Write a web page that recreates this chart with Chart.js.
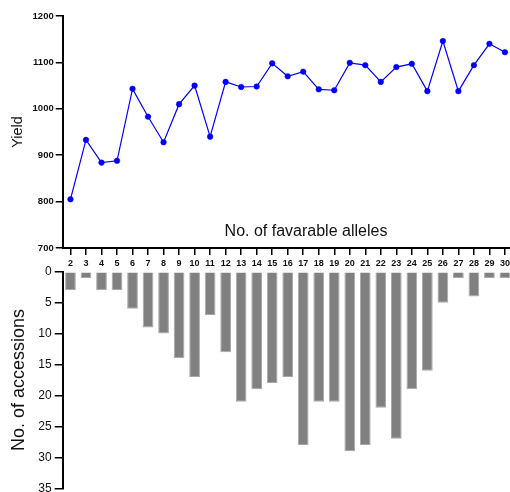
<!DOCTYPE html>
<html>
<head>
<meta charset="utf-8">
<script src="https://cdn.jsdelivr.net/npm/chart.js@4.4.1/dist/chart.umd.min.js"></script>
<style>
  html, body { margin: 0; padding: 0; background: #fff; overflow: hidden; width: 510px; height: 492px; }
  canvas { position: absolute; left: 0; }
  #yield_chart { top: 0; }
  #count_chart { top: 252px; }
</style>
</head>
<body>
<canvas id="yield_chart" width="530" height="278"></canvas>
<canvas id="count_chart" width="530" height="257"></canvas>
<script>
var alleles = ['2','3','4','5','6','7','8','9','10','11','12','13','14','15','16',
               '17','18','19','20','21','22','23','24','25','26','27','28','29','30'];
var yieldValues = [805, 933, 884, 888, 1043, 983, 928, 1010, 1050, 940, 1058, 1047, 1048, 1098, 1070,
                   1080, 1042, 1040, 1099, 1094, 1058, 1090, 1097, 1038, 1146, 1038, 1094, 1140, 1122];
var accessions = [3, 1, 3, 3, 6, 9, 10, 14, 17, 7, 13, 21, 19, 18, 17,
                  28, 21, 21, 29, 28, 22, 27, 19, 16, 5, 1, 4, 1, 1];
var yieldTicks = [700, 800, 900, 1000, 1100, 1200];

var FONT = "'Liberation Sans', Arial, sans-serif";
Chart.defaults.font.family = FONT;
Chart.defaults.color = '#111';

// axis box width so both plots start at x = 62.7
function fixWidth(axis) { axis.width = 62.7; }

var xTitle = {
  id: 'xTitle',
  afterDraw: function (chart) {
    var ctx = chart.ctx;
    ctx.save();
    ctx.font = '16px ' + FONT;
    ctx.fillStyle = '#111';
    ctx.textAlign = 'center';
    ctx.textBaseline = 'middle';
    ctx.fillText('No. of favarable alleles', 306, 232);
    ctx.restore();
  }
};

new Chart(document.getElementById('yield_chart').getContext('2d'), {
  type: 'line',
  data: {
    labels: alleles,
    datasets: [{
      data: yieldValues,
      borderColor: '#0000ff',
      backgroundColor: '#0000ff',
      borderWidth: 1.2,
      pointRadius: 2.8,
      pointBorderWidth: 0.5,
      tension: 0
    }]
  },
  options: {
    responsive: false,
    animation: false,
    layout: { padding: { top: 16, bottom: 0, left: 0, right: 17.3 } },
    plugins: { legend: { display: false }, tooltip: { enabled: false } },
    scales: {
      x: {
        offset: true,
        afterFit: function (axis) { axis.height = 30; },
        border: { color: '#000', width: 2 },
        grid: { display: true, drawOnChartArea: false, color: '#000', lineWidth: 1.5, tickLength: 7 },
        ticks: { font: { size: 9, weight: 'bold' }, padding: 3, maxRotation: 0, autoSkip: false, color: '#111' }
      },
      y: {
        min: 700,
        max: 1200,
        afterFit: fixWidth,
        afterBuildTicks: function (axis) { axis.ticks = yieldTicks.map(function (v) { return { value: v }; }); },
        border: { color: '#000', width: 2 },
        grid: { display: true, drawOnChartArea: false, color: '#000', lineWidth: 1.5, tickLength: 7 },
        ticks: {
          font: { size: 9.5, weight: 'bold' }, padding: 2, color: '#111',
          callback: function (v) { return String(v); }
        },
        title: { display: true, text: 'Yield', font: { size: 14.5 }, padding: { top: 9.3, bottom: 0 }, color: '#111' }
      }
    }
  },
  plugins: [xTitle]
});

new Chart(document.getElementById('count_chart').getContext('2d'), {
  type: 'bar',
  data: {
    labels: alleles,
    datasets: [{
      data: accessions,
      backgroundColor: '#808080',
      borderColor: '#a8a8a8',
      borderWidth: 1,
      categoryPercentage: 1,
      barPercentage: 0.69
    }]
  },
  options: {
    responsive: false,
    animation: false,
    layout: { padding: { top: 19.7, bottom: 20.7, left: 0, right: 17.3 } },
    plugins: { legend: { display: false }, tooltip: { enabled: false } },
    scales: {
      x: { display: false, offset: true },
      y: {
        min: 0,
        max: 35,
        reverse: true,
        afterFit: fixWidth,
        border: { color: '#000', width: 2 },
        grid: { display: true, drawOnChartArea: false, color: '#000', lineWidth: 1.5, tickLength: 8 },
        ticks: { stepSize: 5, font: { size: 12 }, padding: 3, color: '#111' },
        title: { display: true, text: 'No. of accessions', font: { size: 18 }, padding: { top: 8.7, bottom: 0 }, color: '#111' }
      }
    }
  }
});
</script>
</body>
</html>
